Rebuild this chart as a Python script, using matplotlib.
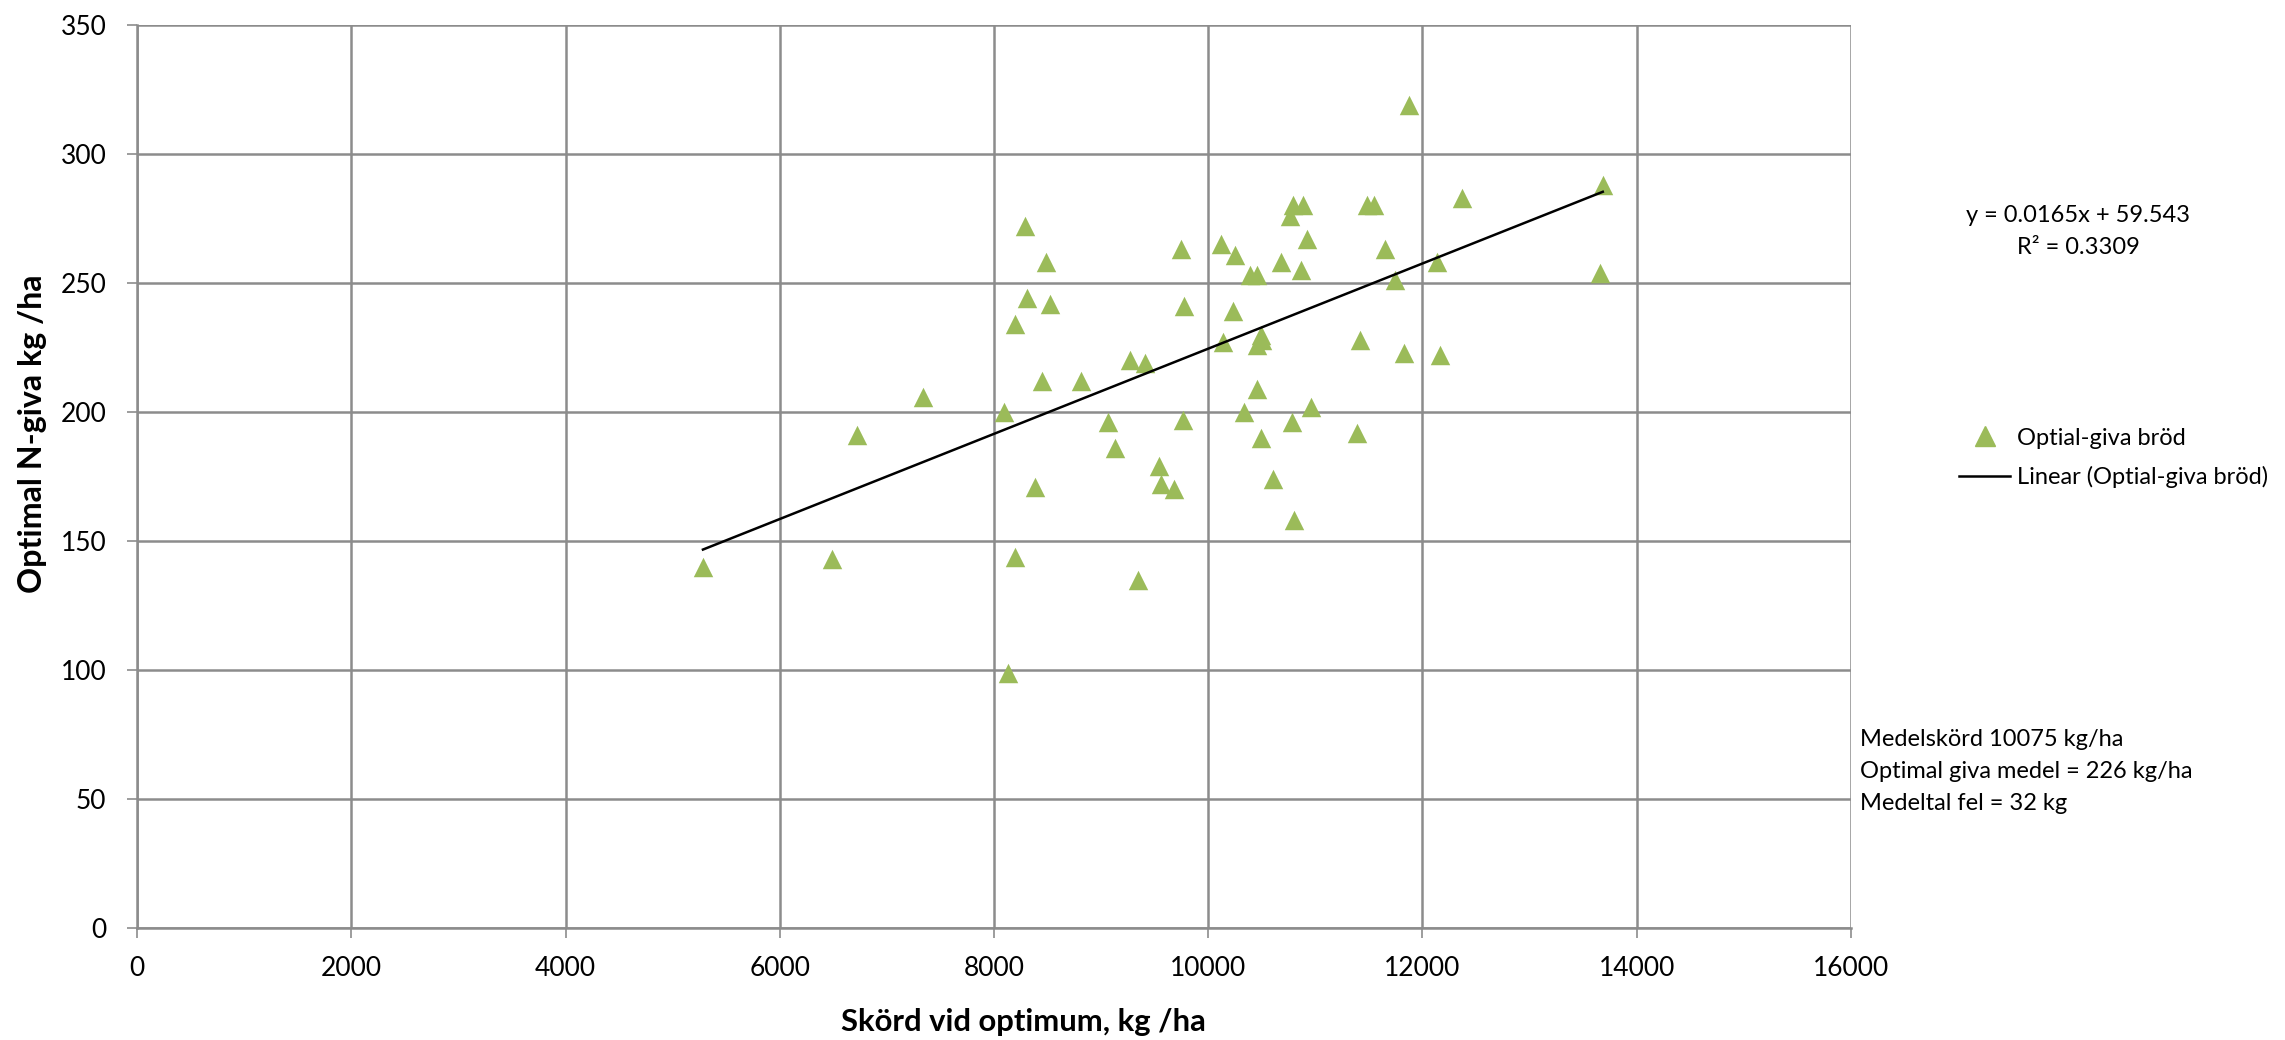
import matplotlib
matplotlib.use("Agg")
import matplotlib.pyplot as plt
from matplotlib.lines import Line2D
import numpy as np

plt.rcParams['font.family'] = ['Lato', 'DejaVu Sans']

# Data
skord = [8294, 8490, 9750, 10121, 10254, 10392, 10451, 10676, 10863, 10788,
         10880, 10759, 10922, 8311, 8523, 8198, 9775, 10234, 10138, 10496,
         10500, 10455, 9274, 9408, 8444, 8815, 7339, 10455, 8098, 10338,
         10955, 6722, 9061, 9766, 10784, 9132, 10496, 9537, 9562, 9683,
         10609, 8382, 10796, 11870, 13683, 12367, 11482, 11549, 11649, 12134,
         11740, 13656, 11412, 11830, 12164, 11389, 5283, 6488, 8198, 9341,
         8127]
ngiva = [272, 258, 263, 265, 261, 253, 253, 258, 255, 280,
         280, 276, 267, 244, 242, 234, 241, 239, 227, 230,
         228, 226, 220, 219, 212, 212, 206, 209, 200, 200,
         202, 191, 196, 197, 196, 186, 190, 179, 172, 170,
         174, 171, 158, 319, 288, 283, 280, 280, 263, 258,
         251, 254, 228, 223, 222, 192, 140, 143, 144, 135,
         99]

slope = 0.0165
intercept = 59.543
r2 = 0.3309

x_ticks = [0, 2000, 4000, 6000, 8000, 10000, 12000, 14000, 16000]
y_ticks = [0, 50, 100, 150, 200, 250, 300, 350]

series_name = "Optial-giva bröd"
trend_name = "Linear (Optial-giva bröd)"
stats_lines = ["Medelskörd 10075 kg/ha",
               "Optimal giva medel = 226 kg/ha",
               "Medeltal fel = 32 kg"]

green = "#9BBB59"
grid_col = "#8C8C8C"

W, H = 2285, 1040
fig = plt.figure(figsize=(W/100, H/100), dpi=100)
ax = fig.add_axes([137/W, 1 - 928.3/H, (1851-137)/W, (928.3-24.8)/H])

ax.scatter(skord, ngiva, marker='^', s=14**2, color=green, zorder=3, linewidths=0)

xs = np.array([min(skord), max(skord)])
ax.plot(xs, slope*xs + intercept, color='black', lw=1.8, zorder=4)

ax.set_xlim(0, 16000)
ax.set_ylim(0, 350)
ax.set_xticks(x_ticks)
ax.set_yticks(y_ticks)
ax.set_xticklabels([str(t) for t in x_ticks])
ax.set_yticklabels([str(t) for t in y_ticks])
ax.grid(True, color=grid_col, lw=1.8, zorder=0)
ax.set_axisbelow(True)
for side in ['top', 'right']:
    ax.spines[side].set_visible(False)
for side in ['left', 'bottom']:
    ax.spines[side].set_color(grid_col)
    ax.spines[side].set_linewidth(1.8)
ax.tick_params(axis='both', direction='out', length=7, width=1.2, color=grid_col,
               labelsize=19)
ax.tick_params(axis='x', pad=13)
ax.tick_params(axis='y', pad=15)

ax.set_xlabel("Skörd vid optimum, kg /ha", fontsize=22.3, fontweight='bold', va='center')
ax.xaxis.set_label_coords((1023-137)/1714, (928.3-1022)/903.5)
ax.set_ylabel("Optimal N-giva kg /ha", fontsize=23.2, fontweight='bold', va='center')
ax.yaxis.set_label_coords((32-137)/1714, (928.3-434)/903.5)

# Equation
fig.text(2078/W, 1 - 216/H, f"y = {slope}x + {intercept}", fontsize=17,
         ha='center', va='center')
fig.text(2078/W, 1 - 248/H, f"R² = {r2}", fontsize=17, ha='center', va='center')

# Legend
handles = [Line2D([], [], marker='^', color=green, linestyle='None', markersize=14),
           Line2D([], [], color='black', lw=1.8)]
fig.legend(handles, [series_name, trend_name], loc='center left',
           bbox_to_anchor=(1959/W, 1 - 458/H), frameon=False, fontsize=17,
           borderpad=0, borderaxespad=0, handlelength=2.16, handletextpad=0.3,
           labelspacing=0.74)

for i, line in enumerate(stats_lines):
    fig.text(1860/W, 1 - (740 + 31.5*i)/H, line, fontsize=17,
             ha='left', va='center')

fig.savefig("out.png", dpi=100)
